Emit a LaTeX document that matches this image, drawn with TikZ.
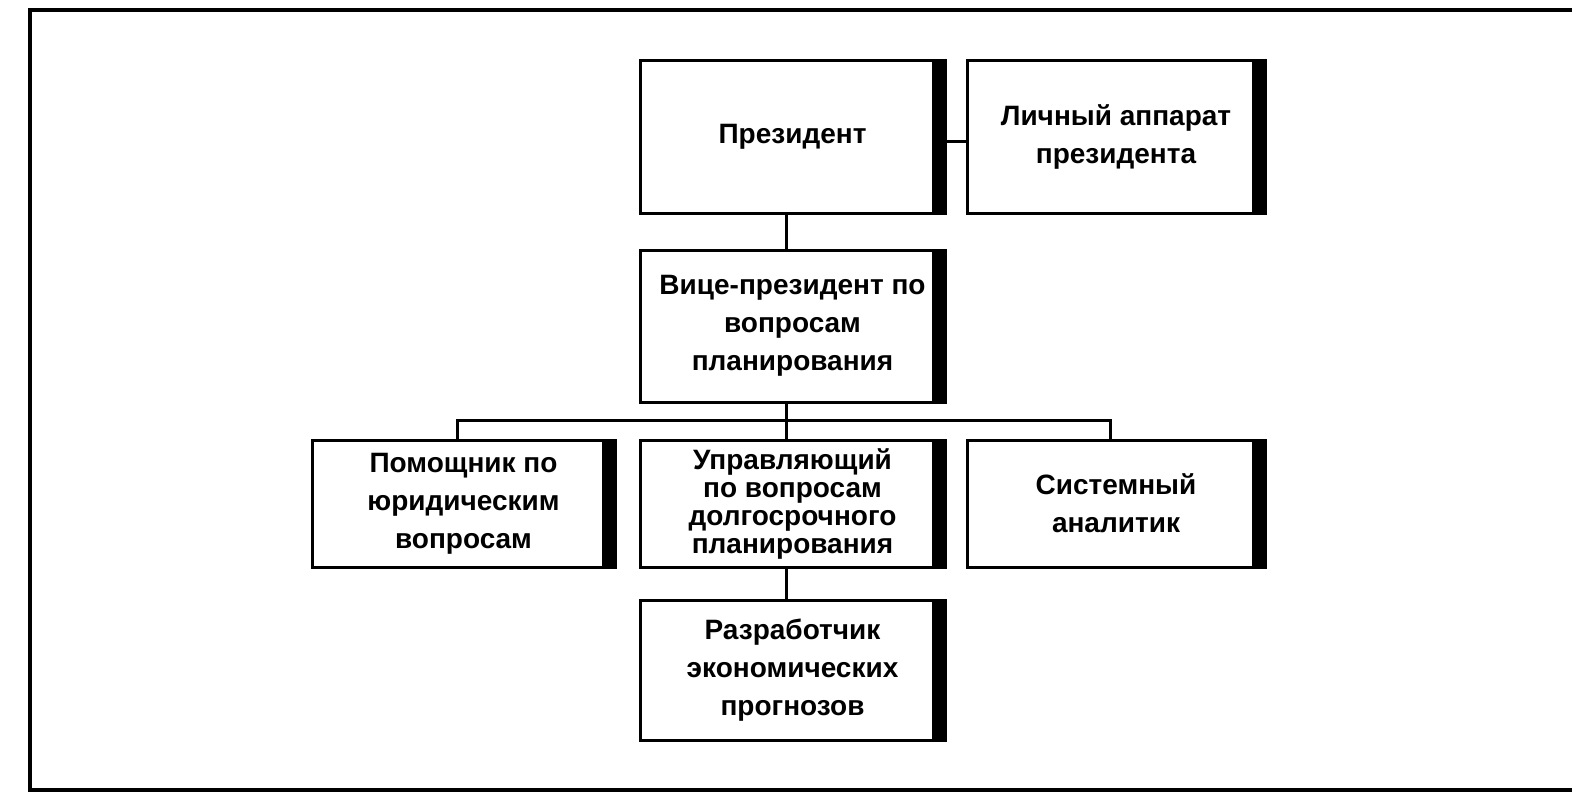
\documentclass[tikz,border=0pt]{standalone}
\usepackage{fontspec}
\setmainfont{Liberation Sans}
\begin{document}
\begin{tikzpicture}[x=0.5pt,y=-0.5pt,
  box/.style={draw, line width=1.5pt, rectangle, align=center, inner sep=0pt,
    font=\fontsize{14}{19}\selectfont\bfseries,
    path picture={\fill ([xshift=-6.5pt]path picture bounding box.south east) rectangle (path picture bounding box.north east);}},
  conn/.style={line width=1.5pt},
  frameline/.style={line width=1.6pt}]
\useasboundingbox (0,0) rectangle (1572,800);
\draw[frameline] (1572,10) -- (30,10) -- (30,790) -- (1572,790);
\node[box, minimum width=152.5pt, minimum height=76.5pt] (pres) at (792.5,136.5) {Президент};
\node[box, minimum width=149pt, minimum height=76.5pt] (staff) at (1116,136.5) {Личный аппарат\\президента};
\node[box, minimum width=152.5pt, minimum height=76pt] (vp) at (792.5,326) {Вице-президент по\\вопросам\\планирования};
\node[box, minimum width=151.5pt, minimum height=63.5pt] (legal) at (463.5,503.5) {Помощник по\\юридическим\\вопросам};
\node[box, minimum width=152.5pt, minimum height=63.5pt, font=\fontsize{14}{14}\selectfont\bfseries] (mgr) at (792.5,503.5) {Управляющий\\по вопросам\\долгосрочного\\планирования};
\node[box, minimum width=149pt, minimum height=63.5pt] (sys) at (1116,503.5) {Системный\\аналитик};
\node[box, minimum width=152.5pt, minimum height=70pt] (dev) at (792.5,670) {Разработчик\\экономических\\прогнозов};
\coordinate (bus) at (787,420);
\draw[conn] ([xshift=-3pt,yshift=-2.5pt]pres.east) -- ([yshift=-2.5pt]staff.west);
\draw[conn] ([xshift=-3pt]pres.south) -- ([xshift=-3pt]vp.north);
\draw[conn] ([xshift=-3pt]vp.south) -- ([xshift=-3pt]mgr.north);
\draw[conn] ([xshift=-3pt]legal.north) |- (bus) -| ([xshift=-3pt]sys.north);
\draw[conn] ([xshift=-3pt]mgr.south) -- ([xshift=-3pt]dev.north);
\end{tikzpicture}
\end{document}
